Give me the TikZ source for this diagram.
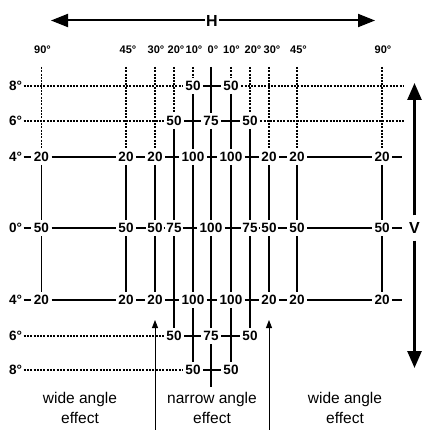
\documentclass[tikz,border=0pt]{standalone}
\usepackage{fontspec}
\setmainfont{Liberation Sans}
\usetikzlibrary{arrows.meta}
\begin{document}
\begin{tikzpicture}[x=1pt,y=-1pt,
  num/.style={font=\fontsize{13.5}{15}\selectfont\bfseries,inner xsep=2.5pt,inner ysep=3pt,text height=9.6pt,text depth=0pt},
  tight/.style={inner xsep=1pt},
  rlab/.style={num,inner xsep=1.5pt},
  deg/.style={font=\fontsize{11}{12}\selectfont\bfseries,inner sep=0pt},
  note/.style={font=\fontsize{15.5}{20}\selectfont,align=center,inner sep=0pt},
  ln/.style={line width=1.2pt},
  dotln/.style={line width=1.15pt,dash pattern=on 2pt off 1.3pt},
  bigtip/.style={-{Triangle[length=17pt,width=13pt]}},
  ptr/.style={line width=0.9pt,-{Triangle[length=8pt,width=6pt]}},
  letter/.style={font=\fontsize{16}{18}\selectfont\bfseries},
]
\useasboundingbox (0,0) rectangle (421,430);

% ---------- H arrow ----------
\node[letter,inner xsep=1pt] (H) at (212,20.5) {H};
\coordinate (hl) at (51,20.5);
\coordinate (hr) at (375,20.5);
\draw[line width=2pt,bigtip] (H) -- (hl);
\draw[line width=2pt,bigtip] (H) -- (hr);

% ---------- V arrow ----------
\node[letter,inner ysep=7pt,inner xsep=0pt] (V) at (414.5,228) {V};
\coordinate (vt) at (414.5,83);
\coordinate (vb) at (414.5,368);
\draw[line width=2.7pt,-{Triangle[length=17pt,width=14pt]}] (V) -- (vt);
\draw[line width=2.7pt,-{Triangle[length=17pt,width=14pt]}] (V) -- (vb);

% ---------- degree labels on top ----------
\node[deg] (dL90) at (42.5,50) {90°};
\node[deg] (dL45) at (128,50) {45°};
\node[deg] (dL30) at (156,50) {30°};
\node[deg] (dL20) at (176,50) {20°};
\node[deg] (dL10) at (194,50) {10°};
\node[deg] (dC)   at (213,50) {0°};
\node[deg] (dR10) at (231.5,50) {10°};
\node[deg] (dR20) at (253,50) {20°};
\node[deg] (dR30) at (272,50) {30°};
\node[deg] (dR45) at (298.5,50) {45°};
\node[deg] (dR90) at (383,50) {90°};

% ---------- top ends of the columns ----------
\coordinate (tL90) at (41.5,67);
\coordinate (tL45) at (126,67);
\coordinate (tL30) at (155,67);
\coordinate (tL20) at (174,67);
\coordinate (tL10) at (193,67);
\coordinate (tC)   at (211,67);
\coordinate (tR10) at (231,67);
\coordinate (tR20) at (250,67);
\coordinate (tR30) at (269,67);
\coordinate (tR45) at (297,67);
\coordinate (tR90) at (382,67);
\coordinate (bC)   at (211,387);

% ---------- row labels ----------
\node[rlab] (r8a) at (15.5,86)  {8°};
\node[rlab] (r6a) at (15.5,121) {6°};
\node[rlab] (r4a) at (15.5,157) {4°};
\node[rlab] (r0)  at (15.5,228) {0°};
\node[rlab] (r4b) at (15.5,300) {4°};
\node[rlab] (r6b) at (15.5,336) {6°};
\node[rlab] (r8b) at (15.5,370) {8°};

% ---------- row 8 (top) ----------
\node[num] (A8L10) at (193,86) {50};
\node[num] (A8R10) at (231,86) {50};
% ---------- row 6 (top) ----------
\node[num] (A6L20) at (174,121) {50};
\node[num] (A6C)   at (211,121) {75};
\node[num] (A6R20) at (250,121) {50};
% ---------- row 4 (top) ----------
\node[num] (A4L90) at (41.5,157) {20};
\node[num] (A4L45) at (126,157) {20};
\node[num] (A4L30) at (155,157) {20};
\node[num] (A4L10) at (193,157) {100};
\node[num] (A4R10) at (231,157) {100};
\node[num] (A4R30) at (269,157) {20};
\node[num] (A4R45) at (297,157) {20};
\node[num] (A4R90) at (382,157) {20};
% ---------- row 0 ----------
\node[num] (Z0L90) at (41.5,228) {50};
\node[num] (Z0L45) at (126,228) {50};
\node[num,tight] (Z0L30) at (155,228) {50};
\node[num,tight] (Z0L20) at (174,228) {75};
\node[num] (Z0C)   at (211,228) {100};
\node[num,tight] (Z0R20) at (250,228) {75};
\node[num,tight] (Z0R30) at (269,228) {50};
\node[num] (Z0R45) at (297,228) {50};
\node[num] (Z0R90) at (382,228) {50};
% ---------- row 4 (bottom) ----------
\node[num] (B4L90) at (41.5,300) {20};
\node[num] (B4L45) at (126,300) {20};
\node[num] (B4L30) at (155,300) {20};
\node[num] (B4L10) at (193,300) {100};
\node[num] (B4R10) at (231,300) {100};
\node[num] (B4R30) at (269,300) {20};
\node[num] (B4R45) at (297,300) {20};
\node[num] (B4R90) at (382,300) {20};
% ---------- row 6 (bottom) ----------
\node[num] (B6L20) at (174,336) {50};
\node[num] (B6C)   at (211,336) {75};
\node[num] (B6R20) at (250,336) {50};
% ---------- row 8 (bottom) ----------
\node[num] (B8L10) at (193,370) {50};
\node[num] (B8R10) at (231,370) {50};

% free ends on the right
\coordinate (e8a) at (404,86);
\coordinate (e6a) at (404,121);
\coordinate (e4a) at (402,157);
\coordinate (e0)  at (402,228);
\coordinate (e4b) at (402,300);

% ---------- horizontal lines ----------
\draw[dotln] (r8a) -- (A8L10);
\draw[ln] (A8L10) -- (A8R10);
\draw[dotln] (A8R10) -- (e8a);

\draw[dotln] (r6a) -- (A6L20);
\draw[ln] (A6L20) -- (A6C) -- (A6R20);
\draw[dotln] (A6R20) -- (e6a);

\draw[ln] (r4a) -- (A4L90) -- (A4L45) -- (A4L30) -- (A4L10) -- (A4R10) -- (A4R30) -- (A4R45) -- (A4R90) -- (e4a);
\draw[ln] (r0) -- (Z0L90) -- (Z0L45) -- (Z0L30) -- (Z0L20) -- (Z0C) -- (Z0R20) -- (Z0R30) -- (Z0R45) -- (Z0R90) -- (e0);
\draw[ln] (r4b) -- (B4L90) -- (B4L45) -- (B4L30) -- (B4L10) -- (B4R10) -- (B4R30) -- (B4R45) -- (B4R90) -- (e4b);

\draw[dotln] (r6b) -- (B6L20);
\draw[ln] (B6L20) -- (B6C) -- (B6R20);

\draw[dotln] (r8b) -- (B8L10);
\draw[ln] (B8L10) -- (B8R10);

% ---------- vertical lines ----------
\draw[dotln] (tL90) -- (A4L90);
\draw[ln] (A4L90) -- (Z0L90) -- (B4L90);
\draw[dotln] (tL45) -- (A4L45);
\draw[ln] (A4L45) -- (Z0L45) -- (B4L45);
\draw[dotln] (tL30) -- (A4L30);
\draw[ln] (A4L30) -- (Z0L30) -- (B4L30);
\draw[dotln] (tL20) -- (A6L20);
\draw[ln] (A6L20) -- (Z0L20) -- (B6L20);
\draw[dotln] (tL10) -- (A8L10);
\draw[ln] (A8L10) -- (A4L10) -- (B4L10) -- (B8L10);
\draw[ln] (tC) -- (A6C) -- (Z0C) -- (B6C) -- (bC);
\draw[dotln] (tR10) -- (A8R10);
\draw[ln] (A8R10) -- (A4R10) -- (B4R10) -- (B8R10);
\draw[dotln] (tR20) -- (A6R20);
\draw[ln] (A6R20) -- (Z0R20) -- (B6R20);
\draw[dotln] (tR30) -- (A4R30);
\draw[ln] (A4R30) -- (Z0R30) -- (B4R30);
\draw[dotln] (tR45) -- (A4R45);
\draw[ln] (A4R45) -- (Z0R45) -- (B4R45);
\draw[dotln] (tR90) -- (A4R90);
\draw[ln] (A4R90) -- (Z0R90) -- (B4R90);

% ---------- pointer arrows ----------
\coordinate (pl) at (155,430);
\coordinate (pr) at (269,430);
\draw[ptr,shorten >=12pt] (pl) -- (B4L30.south);
\draw[ptr,shorten >=12pt] (pr) -- (B4R30.south);

% ---------- notes ----------
\node[note] (n1) at (80,407.5) {wide angle\\effect};
\node[note] (n2) at (212,407.5) {narrow angle\\effect};
\node[note] (n3) at (345,407.5) {wide angle\\effect};
\end{tikzpicture}
\end{document}
